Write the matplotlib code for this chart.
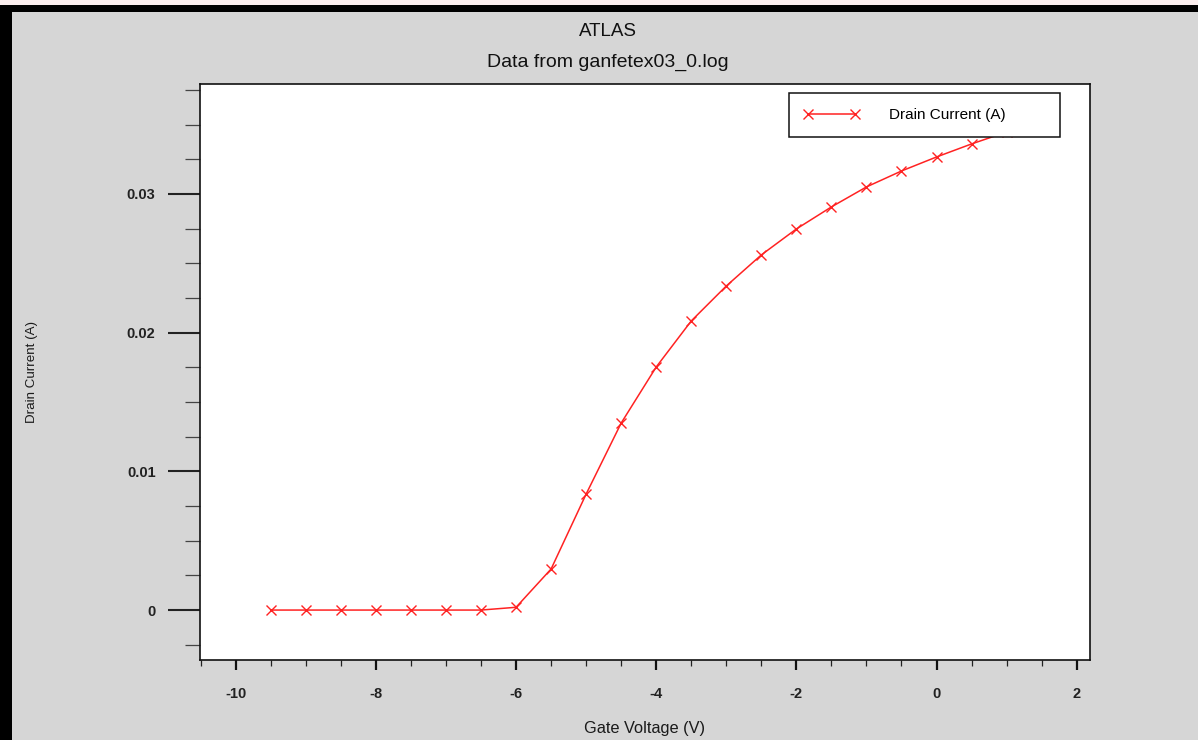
import matplotlib
matplotlib.use("Agg")
import matplotlib.pyplot as plt
from matplotlib.patches import Rectangle
from matplotlib.ticker import MultipleLocator, FixedLocator

# ---- data ----
gate_voltage = [-9.5, -9.0, -8.5, -8.0, -7.5, -7.0, -6.5, -6.0, -5.5, -5.0, -4.5,
                -4.0, -3.5, -3.0, -2.5, -2.0, -1.5, -1.0, -0.5, 0.0, 0.5, 1.0]
drain_current = [0.0, 0.0, 0.0, 0.0, 0.0, 0.0, 0.0, 0.0002, 0.00296, 0.00836, 0.01348,
                 0.01752, 0.02084, 0.02336, 0.0256, 0.02747, 0.02906, 0.0305, 0.03165,
                 0.03266, 0.0336, 0.03446]
x_major_ticks = [-10, -8, -6, -4, -2, 0, 2]
y_major_ticks = [0.0, 0.01, 0.02, 0.03]
y_tick_labels = ["0", "0.01", "0.02", "0.03"]
title_main = "ATLAS"
title_sub = "Data from ganfetex03_0.log"
x_label = "Gate Voltage (V)"
y_label = "Drain Current (A)"
series_label = "Drain Current (A)"

plt.rcParams['font.family'] = ['Liberation Sans', 'DejaVu Sans']
plt.rcParams['axes.unicode_minus'] = False

W, H = 1198, 740
fig = plt.figure(figsize=(W / 100, H / 100), dpi=100)
fig.patch.set_facecolor('#d6d6d6')

# screenshot frame decorations
fig.patches.append(Rectangle((0, 1 - 5 / H), 1, 5 / H, transform=fig.transFigure,
                             facecolor='#fbeeee', edgecolor='none', zorder=0))
fig.patches.append(Rectangle((0, 1 - 12 / H), 1, 7 / H, transform=fig.transFigure,
                             facecolor='black', edgecolor='none', zorder=0))
fig.patches.append(Rectangle((0, 0), 12 / W, 1 - 5 / H, transform=fig.transFigure,
                             facecolor='black', edgecolor='none', zorder=0))

left, right, top, bottom = 200, 1090, 84, 660
ax = fig.add_axes([left / W, 1 - bottom / H, (right - left) / W, (bottom - top) / H])
ax.set_facecolor('white')

line, = ax.plot(gate_voltage, drain_current, color='#ff2222', lw=1.1, marker='x',
                markersize=7.5, markeredgewidth=1.0, label=series_label, zorder=3)

ax.set_xlim(-10.51, 2.19)
ax.set_ylim(-0.0036, 0.03792)

ax.xaxis.set_major_locator(FixedLocator(x_major_ticks))
ax.xaxis.set_minor_locator(MultipleLocator(0.5))
ax.yaxis.set_major_locator(FixedLocator(y_major_ticks))
ax.yaxis.set_minor_locator(MultipleLocator(0.0025))
ax.set_yticklabels(y_tick_labels)

ax.tick_params(axis='x', which='major', direction='out', length=7.5, width=1.6,
               color='#111111', pad=12, labelcolor='#222222')
ax.tick_params(axis='x', which='minor', direction='out', length=4.5, width=0.9,
               color='#222222')
ax.tick_params(axis='y', which='major', direction='out', length=23, width=1.5,
               color='#222222', pad=9, labelcolor='#222222')
ax.tick_params(axis='y', which='minor', direction='out', length=11, width=0.9,
               color='#444444')
for lab in ax.get_xticklabels() + ax.get_yticklabels():
    lab.set_fontweight('bold')
    lab.set_fontsize(10.5)

for sp in ax.spines.values():
    sp.set_color('#111111')
    sp.set_linewidth(1.2)

ax.set_xlabel(x_label, fontsize=11.8, color='#1a1a1a')
ax.xaxis.set_label_coords(0.5, -(728 - bottom) / (bottom - top))
ax.xaxis.label.set_va('center')
ax.set_ylabel(y_label, fontsize=9.6, color='#1a1a1a')
ax.yaxis.set_label_coords(-(left - 32) / (right - left), 0.5)
ax.yaxis.label.set_va('center')

fig.text(608 / W, 1 - 32 / H, title_main, ha='center', va='center', fontsize=13.5,
         color='#111111')
fig.text(608 / W, 1 - 62 / H, title_sub, ha='center', va='center', fontsize=14,
         color='#111111')

lx0 = (789 - left) / (right - left)
lx1 = (1060 - left) / (right - left)
ly1 = (bottom - 92) / (bottom - top)
ly0 = (bottom - 138) / (bottom - top)
leg = ax.legend(loc='center', bbox_to_anchor=(lx0, ly0, lx1 - lx0, ly1 - ly0),
                mode='expand', borderaxespad=0, fontsize=11, numpoints=2,
                handlelength=3.7, handletextpad=1.9, borderpad=0.95,
                fancybox=False, framealpha=1, edgecolor='#111111')
leg.get_frame().set_linewidth(1.1)
leg.set_zorder(5)

fig.savefig('out.png', dpi=100, facecolor=fig.get_facecolor())
